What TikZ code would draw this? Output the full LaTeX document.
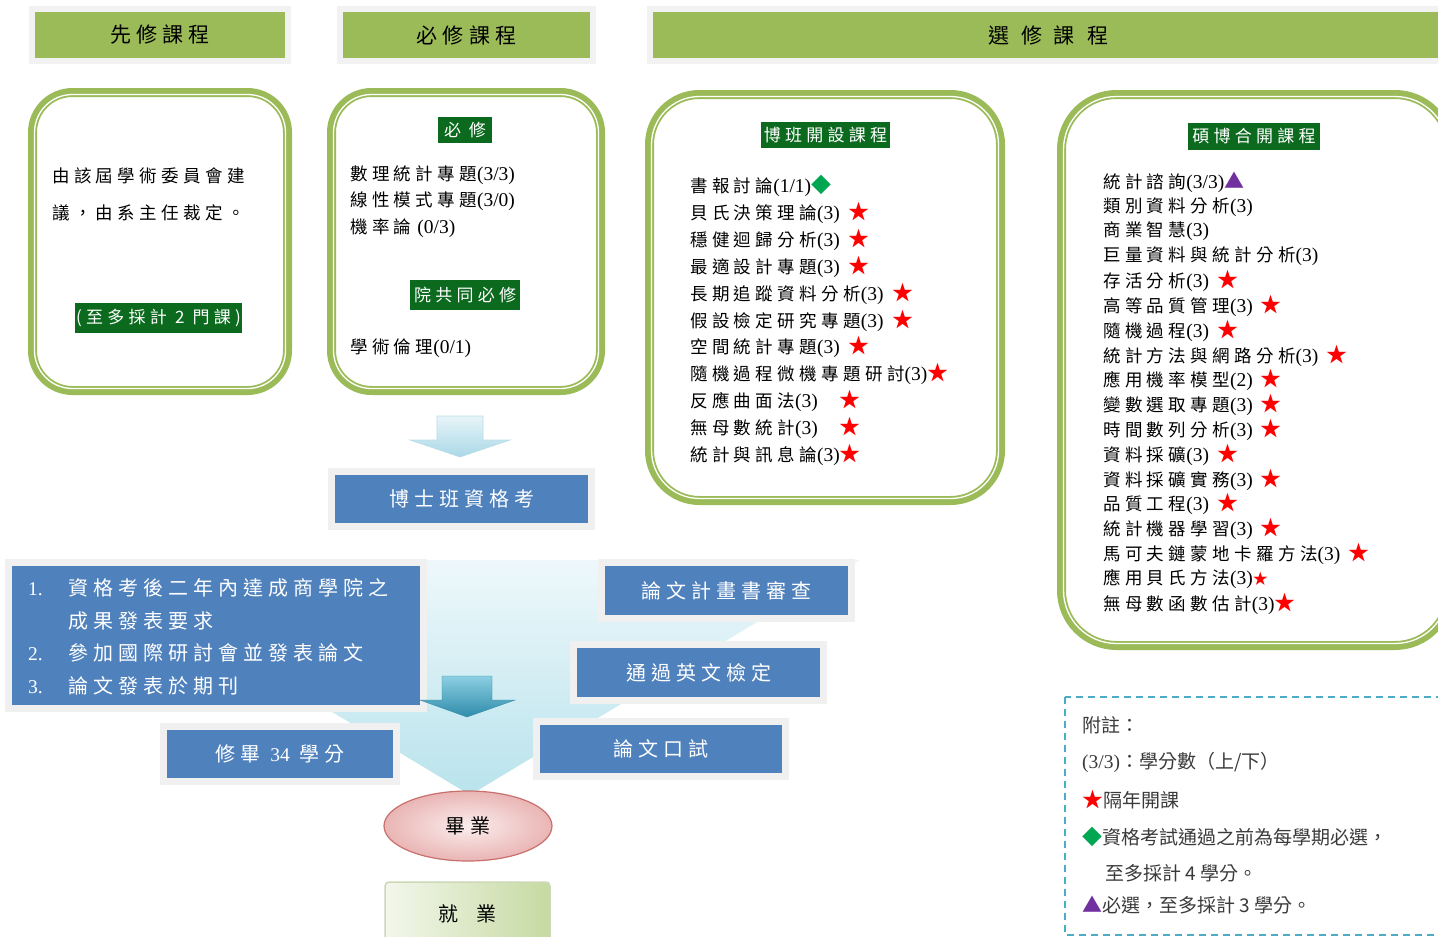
\documentclass[tikz,border=0pt]{standalone}
\usepackage{fontspec}
\setmainfont{Noto Sans CJK TC}
\newfontfamily\lsp[LetterSpace=25]{Noto Sans CJK TC}
\newfontfamily\latf{Liberation Serif}
\usetikzlibrary{shapes.geometric}
\definecolor{hgreen}{HTML}{9BBB59}
\definecolor{dkgreen}{HTML}{0B6A1E}
\definecolor{bblue}{HTML}{4F81BD}
\definecolor{starred}{HTML}{FF0000}
\definecolor{diagreen}{HTML}{00A651}
\definecolor{purp}{HTML}{7030A0}
\definecolor{notegray}{HTML}{3A3A3A}
\definecolor{legblue}{HTML}{4BACC6}
\definecolor{funtop}{HTML}{EEF8FB}
\definecolor{funbot}{HTML}{B9E3EC}
\definecolor{arrtop}{HTML}{E8F5F9}
\definecolor{arrbot}{HTML}{A9D8E6}
\definecolor{arredge}{HTML}{B7DDE8}
\definecolor{sarrtop}{HTML}{8CCFE2}
\definecolor{sarrbot}{HTML}{2F8CAB}
\definecolor{pinkin}{HTML}{FBEDED}
\definecolor{pinkout}{HTML}{E9B5B4}
\definecolor{pinkedge}{HTML}{C8706D}
\definecolor{jobl}{HTML}{F3F7EC}
\definecolor{jobr}{HTML}{C6DAA2}
\definecolor{jobedge}{HTML}{CCD8B8}
\newcommand\redstar{{\color{starred}\fontsize{21}{20}\selectfont ★}}
\newcommand\grdia{{\color{diagreen}\fontsize{20}{20}\selectfont ◆}}
\newcommand\purtri{{\color{purp}\fontsize{20}{20}\selectfont ▲}}
\newcommand\lat[1]{{\latf\fontsize{19.5}{20}\selectfont #1}}
\tikzset{
  hdr/.style={fill=hgreen, inner sep=0, minimum height=46, font=\lsp\fontsize{21}{24}\selectfont, preaction={draw=black!5,line width=12pt}},
  tagbox/.style={fill=dkgreen, text=white, inner sep=0, font=\lsp\fontsize{17}{20}\selectfont},
  item/.style={anchor=west, inner sep=0, font=\lsp\fontsize{17.5}{20}\selectfont},
  bbox/.style={fill=bblue, text=white, inner sep=0, font=\lsp\fontsize{20}{24}\selectfont, preaction={draw=black!6,line width=14pt}},
  note/.style={anchor=west, inner sep=0, text=notegray, font=\fontsize{19}{22}\selectfont},
  gline/.style={draw=hgreen, line width=9pt},
  wline/.style={draw=white, line width=1.3pt},
}
\begin{document}
\begin{tikzpicture}[x=1pt,y=-1pt]
\useasboundingbox (0,0) rectangle (1438,937);
\clip (0,0) rectangle (1438,937);
\fill[white] (0,0) rectangle (1438,937);

% headers
\node[hdr, minimum width=250] (h1) at (160,35) {先修課程};
\node[hdr, minimum width=247] (h2) at (466.5,35) {必修課程};
\node[hdr, minimum width=790] (h3) at (1048,35) {選\hspace{12pt}修\hspace{12pt}課\hspace{12pt}程};

% green rounded boxes
\draw[gline, rounded corners=40pt] (32.5,92.5) rectangle (287.5,390.5);
\draw[wline, rounded corners=38pt] (34.5,94.5) rectangle (285.5,388.5);
\draw[gline, rounded corners=40pt] (331.5,92.5) rectangle (600.5,390.5);
\draw[wline, rounded corners=38pt] (333.5,94.5) rectangle (598.5,388.5);
\draw[gline, rounded corners=50pt] (649.5,94.5) rectangle (1000.5,500.5);
\draw[wline, rounded corners=48pt] (651.5,96.5) rectangle (998.5,498.5);
\draw[gline, rounded corners=55pt] (1061.5,94.5) rectangle (1450,645.5);
\draw[wline, rounded corners=53pt] (1063.5,96.5) rectangle (1448,643.5);

% box 1
\node[item] (p1) at (52,176) {由該屆學術委員會建};
\node[item] (p2) at (52,213) {議，由系主任裁定。};
\node[tagbox, minimum width=167, minimum height=30] (t1) at (158.5,318) {(至多採計 2 門課)};

% box 2
\node[tagbox, minimum width=54, minimum height=26] (t2) at (465,130) {必\hspace{8pt}修};
\node[item] (r1) at (350,175) {數理統計專題\lat{(3/3)}};
\node[item] (r2) at (350,201) {線性模式專題\lat{(3/0)}};
\node[item] (r3) at (350,228) {機率論\hspace{6pt}\lat{(0/3)}};
\node[tagbox, minimum width=110, minimum height=30] (t3) at (465,295) {院共同必修};
\node[item] (r4) at (350,348) {學術倫理\lat{(0/1)}};

% box 3
\node[tagbox, minimum width=129, minimum height=26] (t4) at (825.5,135) {博班開設課程};
\foreach \t [count=\i] in {{書報討論\lat{(1/1)}\grdia},{貝氏決策理論\lat{(3)}\hspace{9pt}\redstar},{穩健迴歸分析\lat{(3)}\hspace{9pt}\redstar},{最適設計專題\lat{(3)}\hspace{9pt}\redstar},{長期追蹤資料分析\lat{(3)}\hspace{9pt}\redstar},{假設檢定研究專題\lat{(3)}\hspace{9pt}\redstar},{空間統計專題\lat{(3)}\hspace{9pt}\redstar},{隨機過程微機專題研討\lat{(3)}\redstar},{反應曲面法\lat{(3)}\hspace{22pt}\redstar},{無母數統計\lat{(3)}\hspace{22pt}\redstar},{統計與訊息論\lat{(3)}\redstar}}
  \node[item] (c\i) at (690,{186+26.9*(\i-1)}) {\t};

% box 4
\node[tagbox, minimum width=132, minimum height=27] (t5) at (1254,136.5) {碩博合開課程};
\foreach \t [count=\i] in {{統計諮詢\lat{(3/3)}\purtri},{類別資料分析\lat{(3)}},{商業智慧\lat{(3)}},{巨量資料與統計分析\lat{(3)}},{存活分析\lat{(3)}\hspace{8pt}\redstar},{高等品質管理\lat{(3)}\hspace{8pt}\redstar},{隨機過程\lat{(3)}\hspace{8pt}\redstar},{統計方法與網路分析\lat{(3)}\hspace{8pt}\redstar},{應用機率模型\lat{(2)}\hspace{8pt}\redstar},{變數選取專題\lat{(3)}\hspace{8pt}\redstar},{時間數列分析\lat{(3)}\hspace{8pt}\redstar},{資料採礦\lat{(3)}\hspace{8pt}\redstar},{資料採礦實務\lat{(3)}\hspace{8pt}\redstar},{品質工程\lat{(3)}\hspace{8pt}\redstar},{統計機器學習\lat{(3)}\hspace{8pt}\redstar},{馬可夫鏈蒙地卡羅方法\lat{(3)}\hspace{8pt}\redstar},{應用貝氏方法\lat{(3)}{\color{starred}\fontsize{15}{14}\selectfont ★}},{無母數函數估計\lat{(3)}\redstar}}
  \node[item] (d\i) at (1103,{182+24.8*(\i-1)}) {\t};

% top arrow
\shade[top color=arrtop, bottom color=arrbot, draw=arredge, line width=0.6pt]
  (437,416) -- (483,416) -- (483,440) -- (510,440) -- (460,457) -- (410,440) -- (437,440) -- cycle;

\node[bbox, minimum width=253, minimum height=48] (qual) at (461.5,499) {博士班資格考};

% funnel
\shade[top color=funtop, bottom color=funbot] (80,560) -- (860,560) -- (470,795) -- cycle;

% blue boxes
\node[bbox, minimum width=408, minimum height=139] (req) at (216,635.5) {};
\node[anchor=west, inner sep=0, text=white, font=\lsp\fontsize{20}{32.5}\selectfont] (reqtxt) at (28,638)
  {\begin{tabular}{@{}l@{\hspace{26pt}}l@{}}\lat{1.} & 資格考後二年內達成商學院之\\ & 成果發表要求\\ \lat{2.} & 參加國際研討會並發表論文\\ \lat{3.} & 論文發表於期刊\end{tabular}};
\node[bbox, minimum width=243, minimum height=49] (plan) at (726.5,590.5) {論文計畫書審查};
\node[bbox, minimum width=243, minimum height=49] (eng) at (698.5,672.5) {通過英文檢定};
\node[bbox, minimum width=242, minimum height=48] (oral) at (661,749) {論文口試};
\node[bbox, minimum width=226, minimum height=48] (cred) at (280,754) {修畢 \lat{34} 學分};

% small arrow
\shade[top color=sarrtop, bottom color=sarrbot, draw=sarrbot, line width=0.4pt]
  (442,676) -- (492,676) -- (492,700) -- (515,700) -- (467,717) -- (420,700) -- (442,700) -- cycle;

% graduation
\node[ellipse, draw=pinkedge, line width=1.2pt, inner color=pinkin, outer color=pinkout, minimum width=168, minimum height=70, inner sep=0, font=\lsp\fontsize{20}{24}\selectfont] (grad) at (468,826) {畢業};
\node[rounded corners=4pt, draw=jobedge, line width=1.5pt, left color=jobl, right color=jobr, minimum width=165, minimum height=63, inner sep=0, font=\lsp\fontsize{20}{24}\selectfont] (job) at (467.5,913.5) {就\hspace{18pt}業};

% legend
\draw[legblue, line width=1.6pt, dash pattern=on 7pt off 5pt] (1065,697) rectangle (1460,935);
\node[note] (n1) at (1082,725) {附註：};
\node[note] (n2) at (1082,762) {\lat{(3/3)}：學分數（上/下）};
\node[note] (n3) at (1082,800) {\redstar 隔年開課};
\node[note] (n4) at (1082,837) {\grdia 資格考試通過之前為每學期必選，};
\node[note] (n5) at (1105,873) {至多採計 4 學分。};
\node[note] (n6) at (1082,905) {\purtri 必選，至多採計 3 學分。};
\end{tikzpicture}
\end{document}
